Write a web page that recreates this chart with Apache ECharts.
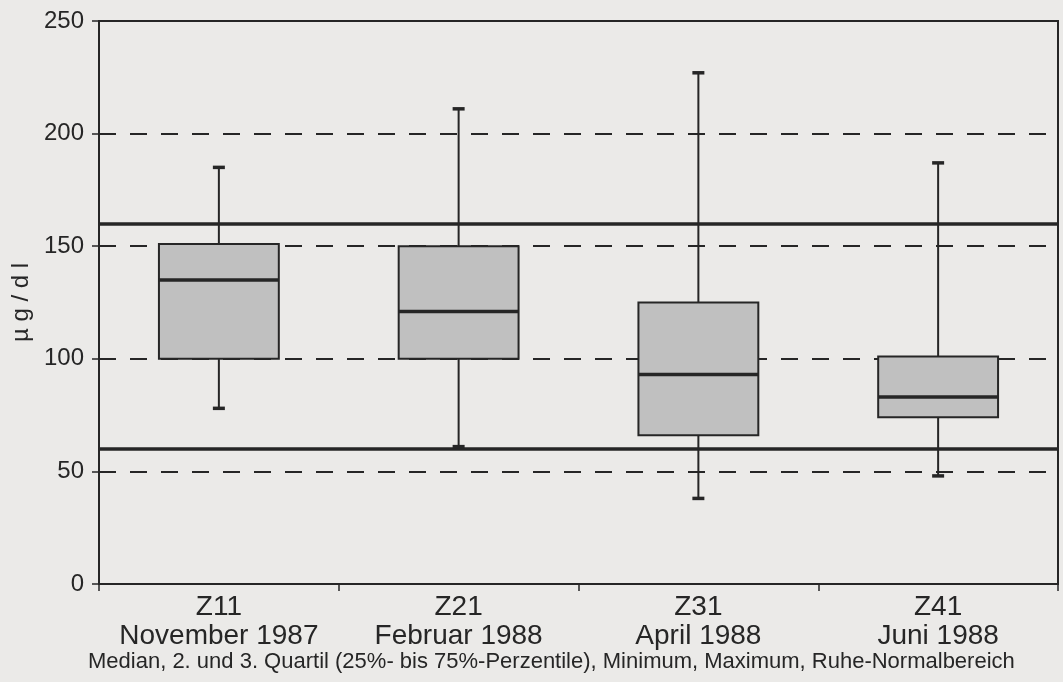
<!DOCTYPE html>
<html>
<head>
<meta charset="utf-8">
<script src="https://cdn.jsdelivr.net/npm/echarts@6/dist/echarts.min.js"></script>
<style>
  html, body { margin: 0; padding: 0; background: #ebeae8; }
  #chart { width: 1063px; height: 682px; }
</style>
</head>
<body>
<div id="chart"></div>
<script>
// Sampling dates (code + month)
const codes = ['Z11', 'Z21', 'Z31', 'Z41'];
const months = ['November 1987', 'Februar 1988', 'April 1988', 'Juni 1988'];

// Box statistics in µg/dl
const minimum = [78, 61, 38, 48];
const quartil1 = [100, 100, 66, 74];
const median = [135, 121, 93, 83];
const quartil3 = [151, 150, 125, 101];
const maximum = [185, 211, 227, 187];

// Resting normal range (lower / upper bound)
const normalRange = [60, 160];

// Y axis ticks
const yTicks = [0, 50, 100, 150, 200, 250];

const ink = '#262626';
const font = 'Liberation Sans, Arial, sans-serif';
const categories = codes.map((c, i) => c + '\n' + months[i]);
const boxData = codes.map((c, i) => [i, minimum[i], quartil1[i], median[i], quartil3[i], maximum[i]]);

function renderBox(params, api) {
  const x = api.value(0);
  const pMin = api.coord([x, api.value(1)]);
  const pQ1 = api.coord([x, api.value(2)]);
  const pMed = api.coord([x, api.value(3)]);
  const pQ3 = api.coord([x, api.value(4)]);
  const pMax = api.coord([x, api.value(5)]);
  const band = api.size([1, 0])[0];
  const half = band * 0.25;
  const cap = 6;
  const cx = pMin[0];
  return {
    type: 'group',
    children: [
      { type: 'line', shape: { x1: cx, y1: pMax[1], x2: cx, y2: pQ3[1] }, style: { stroke: ink, lineWidth: 2 } },
      { type: 'line', shape: { x1: cx, y1: pQ1[1], x2: cx, y2: pMin[1] }, style: { stroke: ink, lineWidth: 2 } },
      { type: 'line', shape: { x1: cx - cap, y1: pMax[1], x2: cx + cap, y2: pMax[1] }, style: { stroke: ink, lineWidth: 3.5 } },
      { type: 'line', shape: { x1: cx - cap, y1: pMin[1], x2: cx + cap, y2: pMin[1] }, style: { stroke: ink, lineWidth: 3.5 } },
      { type: 'rect', shape: { x: cx - half, y: pQ3[1], width: half * 2, height: pQ1[1] - pQ3[1] },
        style: { fill: '#c0c0c0', stroke: ink, lineWidth: 2 } },
      { type: 'line', shape: { x1: cx - half, y1: pMed[1], x2: cx + half, y2: pMed[1] }, style: { stroke: ink, lineWidth: 3.5 } }
    ]
  };
}

const chart = echarts.init(document.getElementById('chart'), null, { renderer: 'canvas' });
chart.setOption({
  backgroundColor: '#ebeae8',
  animation: false,
  textStyle: { fontFamily: font, color: ink },
  grid: {
    left: 99, right: 5, top: 21, bottom: 98,
    show: true, borderColor: ink, borderWidth: 2, backgroundColor: 'transparent'
  },
  xAxis: {
    type: 'category',
    data: categories,
    boundaryGap: true,
    axisLine: { lineStyle: { color: ink, width: 2 } },
    axisTick: { show: true, length: 7, lineStyle: { color: ink, width: 1.5 } },
    axisLabel: {
      interval: 0, color: ink, fontSize: 28, lineHeight: 29, margin: 9, fontFamily: font
    },
    splitLine: { show: false }
  },
  yAxis: {
    type: 'value',
    min: yTicks[0], max: yTicks[yTicks.length - 1], interval: 50,
    name: 'µ g / d l',
    nameLocation: 'middle',
    nameRotate: 90,
    nameGap: 54,
    nameTextStyle: { fontSize: 24, color: ink, fontFamily: font },
    axisLine: { show: true, lineStyle: { color: ink, width: 2 } },
    axisTick: { show: true, length: 7, lineStyle: { color: ink, width: 1.5 } },
    axisLabel: { color: ink, fontSize: 24, margin: 15, fontFamily: font },
    splitLine: { show: true, lineStyle: { color: ink, width: 2, type: [17, 14] } }
  },
  series: [{
    type: 'custom',
    renderItem: renderBox,
    data: boxData,
    encode: { x: 0, y: [1, 2, 3, 4, 5] },
    z: 5,
    markLine: {
      silent: true,
      symbol: 'none',
      label: { show: false },
      lineStyle: { color: ink, width: 3.5, type: 'solid' },
      data: normalRange.map(v => ({ yAxis: v }))
    }
  }],
  graphic: [{
    type: 'text',
    left: 88,
    top: 651,
    style: {
      text: 'Median, 2. und 3. Quartil (25%- bis 75%-Perzentile), Minimum, Maximum, Ruhe-Normalbereich',
      fontSize: 22,
      fill: ink,
      fontFamily: font
    }
  }]
});
</script>
</body>
</html>
